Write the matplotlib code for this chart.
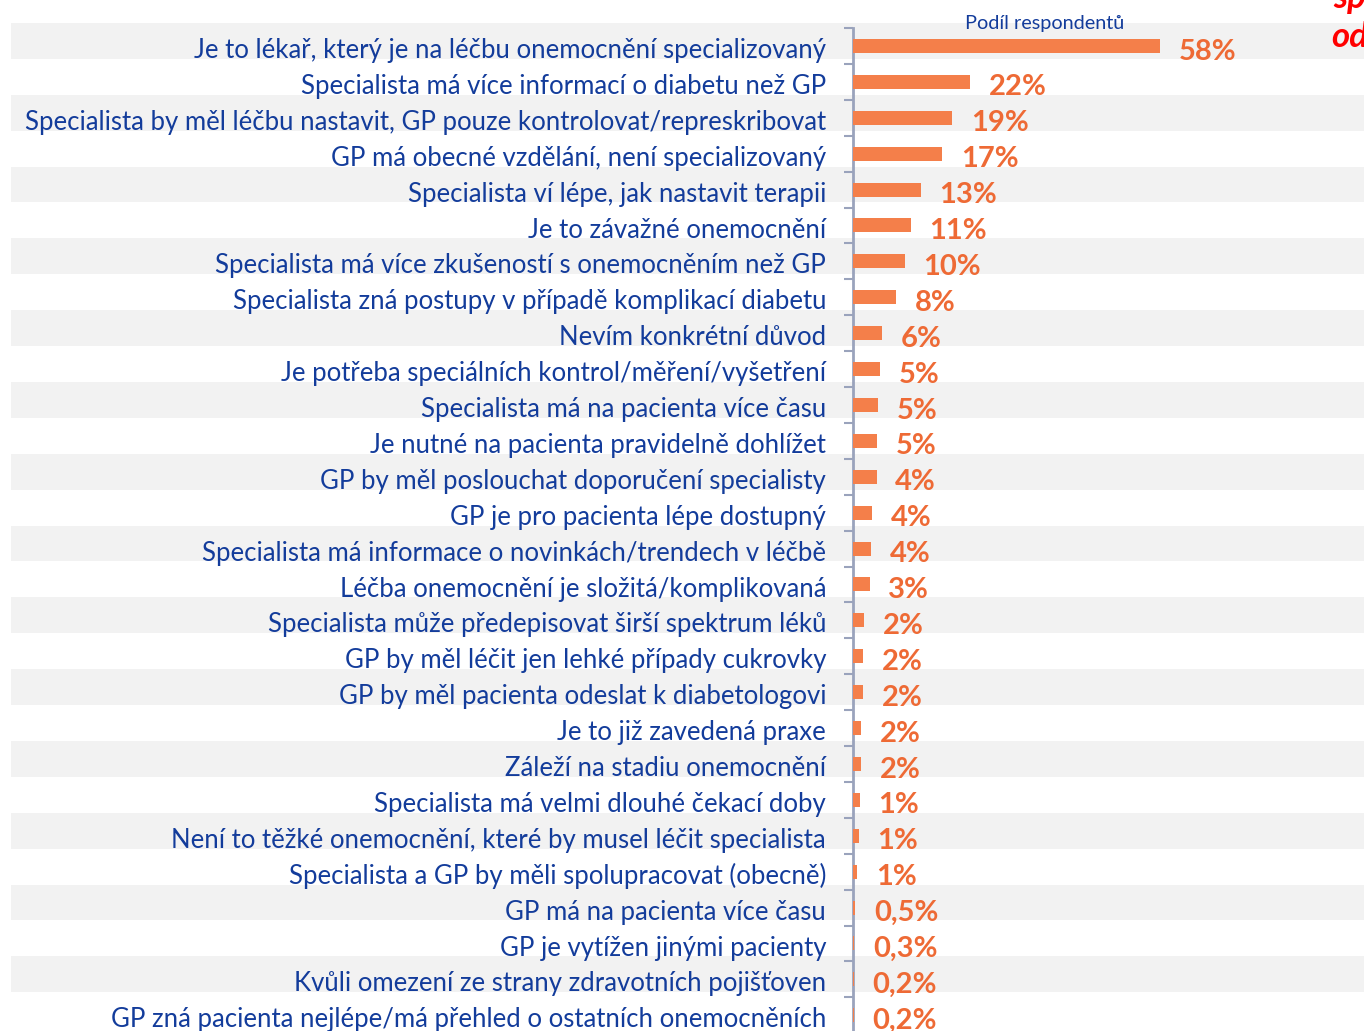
import numpy as np
import matplotlib.pyplot as plt
from matplotlib.patches import Rectangle
from matplotlib.transforms import blended_transform_factory

plt.rcParams['font.family'] = ['Lato', 'DejaVu Sans']

categories = [
    "Je to lékař, který je na léčbu onemocnění specializovaný",
    "Specialista má více informací o diabetu než GP",
    "Specialista by měl léčbu nastavit, GP pouze kontrolovat/represkribovat",
    "GP má obecné vzdělání, není specializovaný",
    "Specialista ví lépe, jak nastavit terapii",
    "Je to závažné onemocnění",
    "Specialista má více zkušeností s onemocněním než GP",
    "Specialista zná postupy v případě komplikací diabetu",
    "Nevím konkrétní důvod",
    "Je potřeba speciálních kontrol/měření/vyšetření",
    "Specialista má na pacienta více času",
    "Je nutné na pacienta pravidelně dohlížet",
    "GP by měl poslouchat doporučení specialisty",
    "GP je pro pacienta lépe dostupný",
    "Specialista má informace o novinkách/trendech v léčbě",
    "Léčba onemocnění je složitá/komplikovaná",
    "Specialista může předepisovat širší spektrum léků",
    "GP by měl léčit jen lehké případy cukrovky",
    "GP by měl pacienta odeslat k diabetologovi",
    "Je to již zavedená praxe",
    "Záleží na stadiu onemocnění",
    "Specialista má velmi dlouhé čekací doby",
    "Není to těžké onemocnění, které by musel léčit specialista",
    "Specialista a GP by měli spolupracovat (obecně)",
    "GP má na pacienta více času",
    "GP je vytížen jinými pacienty",
    "Kvůli omezení ze strany zdravotních pojišťoven",
    "GP zná pacienta nejlépe/má přehled o ostatních onemocněních",
]
values = [58.0, 22.1, 18.7, 16.9, 12.8, 10.9, 9.8, 8.2, 5.5, 5.2, 4.8, 4.5, 4.5, 3.7,
          3.5, 3.2, 2.2, 1.9, 1.9, 1.6, 1.6, 1.3, 1.1, 0.8, 0.45, 0.3, 0.2, 0.2]
value_labels = ["58%", "22%", "19%", "17%", "13%", "11%", "10%", "8%", "6%", "5%", "5%",
                "5%", "4%", "4%", "4%", "3%", "2%", "2%", "2%", "2%", "2%", "1%", "1%",
                "1%", "0,5%", "0,3%", "0,2%", "0,2%"]

bar_color = "#F47F4A"
label_color = "#EE6A35"
text_color = "#133C9B"
axis_color = "#9AA3BC"
band_color = "#F2F2F2"

W, H = 1364, 1031
fig = plt.figure(figsize=(W / 100, H / 100), dpi=100)
n = len(categories)
row_h = 35.9
top_px = 28
ax = fig.add_axes([852.7 / W, 1 - (top_px + n * row_h) / H, (W - 852.7) / W, n * row_h / H])
ax.patch.set_visible(False)

y = np.arange(n)
ax.barh(y, values, height=0.39, color=bar_color, zorder=3)
ax.set_xlim(0, (W - 852.7) / 5.305)
ax.set_ylim(n - 0.5, -0.5)

# alternating grey bands across the whole row
trans = blended_transform_factory(fig.transFigure, ax.transData)
for i in range(0, n, 2):
    fig.patches.append(Rectangle((11 / W, i - 0.5 - 0.14), 1, 1, transform=trans,
                                 facecolor=band_color, edgecolor="none", zorder=-5))

for s in ["top", "right", "bottom"]:
    ax.spines[s].set_visible(False)
ax.spines["left"].set_color(axis_color)
ax.spines["left"].set_linewidth(2)
ax.set_xticks([])
ax.set_yticks(np.arange(n + 1) - 0.5)
ax.set_yticklabels([])
ax.tick_params(axis="y", which="major", length=6.5, width=1.5, color=axis_color)

# category names to the left of the axis
for i, cat in enumerate(categories):
    ax.annotate(cat, xy=(0, i), xytext=(-19.2, -1.5), textcoords="offset points",
                ha="right", va="center_baseline", fontsize=18.5, color=text_color,
                annotation_clip=False)

for i, (v, lbl) in enumerate(zip(values, value_labels)):
    ax.annotate(lbl, xy=(v, i), xytext=(13.5, -4), textcoords="offset points",
                ha="left", va="center", fontsize=21, fontweight="bold", color=label_color,
                annotation_clip=False)

fig.text(965 / W, 1 - 23 / H, "Podíl respondentů", fontsize=14.3, color=text_color,
         ha="left", va="center")
fig.text(1333 / W, 1 - 8 / H, "sp", fontsize=25, fontweight="bold", fontstyle="italic",
         color="#FF0000", ha="left", va="baseline")
fig.text(1331 / W, 1 - 47 / H, "od", fontsize=25, fontweight="bold", fontstyle="italic",
         color="#FF0000", ha="left", va="baseline")

fig.savefig("out.png", dpi=100)
